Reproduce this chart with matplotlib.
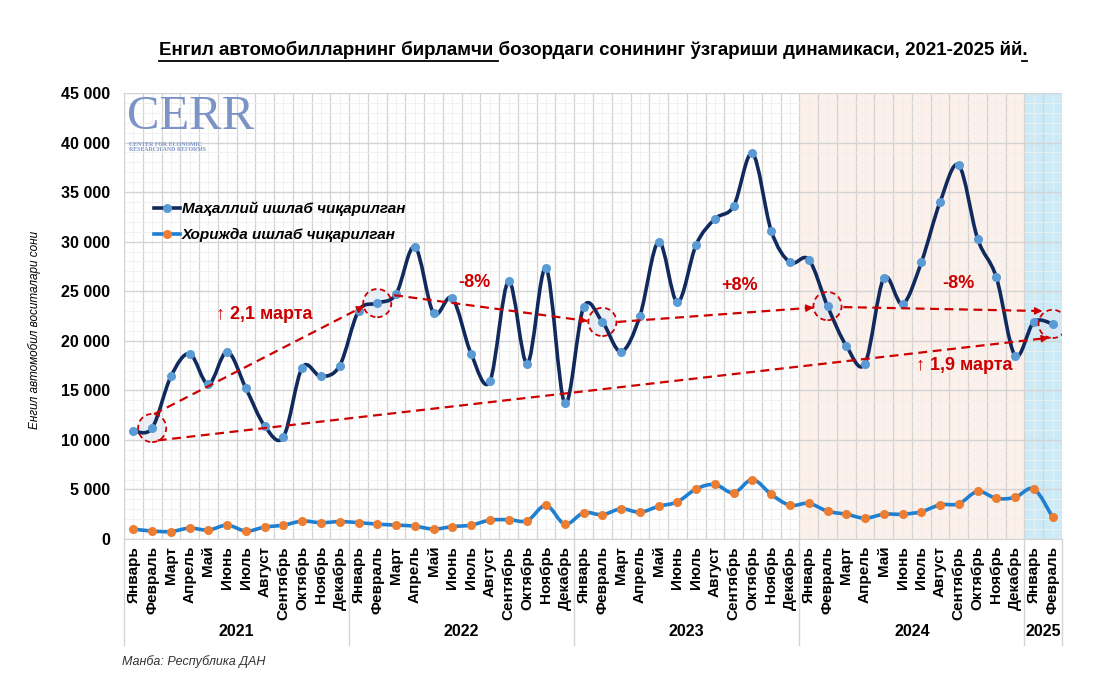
import matplotlib
matplotlib.use("Agg")
import matplotlib.pyplot as plt
from matplotlib.path import Path
from matplotlib.patches import PathPatch, Ellipse
from matplotlib.lines import Line2D
import numpy as np

plt.rcParams['font.family'] = ['Liberation Sans', 'DejaVu Sans']

# ---------------- data ----------------
months = ['Январь', 'Февраль', 'Март', 'Апрель', 'Май', 'Июнь', 'Июль',
          'Август', 'Сентябрь', 'Октябрь', 'Ноябрь', 'Декабрь']
month_labels = months * 4 + months[:2]
years = ['2021', '2022', '2023', '2024', '2025']
year_counts = [12, 12, 12, 12, 2]

local = [10900, 11200, 16400, 18700, 15600, 18900, 15200, 11400, 10300, 17300, 16400, 17500,
         23000, 23800, 24700, 29500, 22800, 24300, 18700, 15900, 26000, 17700, 27300, 13700,
         23400, 21900, 18900, 22500, 30000, 23900, 29700, 32300, 33600, 38900, 31100, 27900,
         28200, 23500, 19500, 17700, 26300, 23700, 27900, 34000, 37700, 30300, 26400, 18500,
         21900, 21700]
foreign = [1000, 800, 750, 1100, 900, 1400, 800, 1200, 1400, 1800, 1650, 1750,
           1650, 1500, 1400, 1300, 1000, 1250, 1400, 1900, 1950, 1850, 3400, 1500,
           2650, 2450, 3050, 2700, 3300, 3750, 5050, 5500, 4650, 6000, 4500, 3400,
           3600, 2800, 2500, 2100, 2500, 2500, 2750, 3450, 3550, 4800, 4100, 4200,
           5050, 2200]

series_names = ['Маҳаллий ишлаб чиқарилган', 'Хорижда ишлаб чиқарилган']

# annotations
circle_idx = [1, 13, 25, 37, 49]
arrows = [((1.1, 12600), (12.3, 23500)),
          ((1.3, 9950), (48.8, 20300)),
          ((13.9, 24600), (24.2, 22000)),
          ((25.8, 21900), (36.25, 23350)),
          ((37.85, 23400), (48.45, 23000))]
labels = [('↑ 2,1 марта', 7.0, 22700),
          ('-8%', 18.2, 25900),
          ('+8%', 32.3, 25600),
          ('-8%', 44.0, 25800),
          ('↑ 1,9 марта', 44.3, 17550)]

title = 'Енгил автомобилларнинг бирламчи бозордаги сонининг ўзгариши динамикаси, 2021-2025 йй.'
title_ul = 'Енгил автомобилларнинг бирламчи'
ylab = 'Енгил автомобил воситалари сони'
source = 'Манба: Республика ДАН'
logo_main = 'CERR'
logo_sub = 'CENTER FOR ECONOMIC\nRESEARCH AND REFORMS'

# ---------------- figure ----------------
W, H = 1100, 676
fig = plt.figure(figsize=(W / 100, H / 100), dpi=100)
ax = fig.add_axes([124 / W, 1 - 539 / H, (1062 - 124) / W, (539 - 93) / H])
n = len(local)
x = np.arange(n)
ax.set_xlim(-0.5, n - 0.5)
ax.set_ylim(0, 45000)

# shaded periods
ax.axvspan(35.5, 47.5, color='#fcf0ea', zorder=0.1, lw=0)
ax.axvspan(47.5, 49.5, color='#cdeaf7', zorder=0.1, lw=0)

# grid
ax.set_axisbelow(True)
ax.set_yticks(np.arange(0, 45001, 5000))
ax.set_yticks(np.arange(0, 45001, 1000), minor=True)
ax.set_xticks(x)
ax.set_xticks(np.arange(-0.5, n, 1.0), minor=True)
ax.grid(True, which='major', axis='y', color='#d4d4d4', lw=1.0)
ax.grid(True, which='minor', axis='y', color='#efefef', lw=0.6)
ax.grid(True, which='minor', axis='x', color='#d4d4d4', lw=0.9)
ax.grid(True, which='major', axis='x', color='#efefef', lw=0.6)
ax.tick_params(which='both', length=0)
for s in ['top', 'right']:
    ax.spines[s].set_visible(False)
ax.spines['left'].set_color('#d4d4d4')
ax.spines['bottom'].set_color('#d4d4d4')

ax.set_yticklabels([f'{int(v):,}'.replace(',', ' ') for v in np.arange(0, 45001, 5000)],
                   fontsize=11.5, fontweight='bold')
ax.tick_params(axis='y', pad=10)
ax.set_xticklabels(month_labels, rotation=90, fontsize=11, fontweight='bold', va='top', ha='center')
ax.tick_params(axis='x', pad=5)


def smooth_path(xs, ys):
    pts = np.column_stack([xs, ys]).astype(float)
    verts = [pts[0]]
    codes = [Path.MOVETO]
    m = len(pts)
    for i in range(m - 1):
        p0 = pts[i - 1] if i > 0 else pts[i]
        p1 = pts[i]
        p2 = pts[i + 1]
        p3 = pts[i + 2] if i + 2 < m else pts[i + 1]
        c1 = p1 + (p2 - p0) / 6.0
        c2 = p2 - (p3 - p1) / 6.0
        verts += [c1, c2, p2]
        codes += [Path.CURVE4] * 3
    return Path(verts, codes)


navy = '#112a5e'
lblue = '#5b9bd5'
mblue = '#1f7fd1'
orange = '#ed7d31'

ax.add_patch(PathPatch(smooth_path(x, local), fill=False, edgecolor=navy, lw=2.6, zorder=3,
                       capstyle='round', joinstyle='round'))
ax.plot(x, local, ls='none', marker='o', ms=5.5, color=lblue, zorder=4)
ax.add_patch(PathPatch(smooth_path(x, foreign), fill=False, edgecolor=mblue, lw=2.6, zorder=3,
                       capstyle='round', joinstyle='round'))
ax.plot(x, foreign, ls='none', marker='o', ms=5.5, color=orange, zorder=4)

# annotations
red = '#cc0000'
for i in circle_idx:
    ax.add_patch(Ellipse((i, local[i]), 1.5, 2850, facecolor='#dbe5f0', alpha=0.55,
                         edgecolor='none', zorder=2.5))
    ax.add_patch(Ellipse((i, local[i]), 1.5, 2850, facecolor='none', edgecolor=red,
                         lw=1.3, ls=(0, (3, 2)), zorder=5))
for (sx, sy), (ex, ey) in arrows:
    ax.plot([sx, ex], [sy, ey], color=red, lw=1.6, ls=(0, (4, 2.5)), zorder=5)
    bx = ex - (ex - sx) * 0.01
    by = ey - (ey - sy) * 0.01
    ax.annotate('', xy=(ex, ey), xytext=(bx, by),
                arrowprops=dict(arrowstyle='-|>', color=red, lw=1, mutation_scale=11,
                                shrinkA=0, shrinkB=0), zorder=6)
for txt, tx, ty in labels:
    ax.text(tx, ty, txt, color=red, fontsize=13, fontweight='bold', ha='center', va='center',
            zorder=6, family=['Liberation Sans', 'DejaVu Sans'])

# legend
h1 = Line2D([], [], color=navy, lw=2.6, marker='o', ms=5.5, mfc=lblue, mec=lblue)
h2 = Line2D([], [], color=mblue, lw=2.6, marker='o', ms=5.5, mfc=orange, mec=orange)
leg = ax.legend([h1, h2], series_names, loc='upper left', bbox_to_anchor=(16 / 938, 1 - 95 / 446),
                frameon=False, handlelength=1.7, handletextpad=0.15, labelspacing=0.75,
                prop=dict(style='italic', weight='bold', size=11))

# category axis: year labels and separators
bounds = np.concatenate([[-0.5], -0.5 + np.cumsum(year_counts)])
yfrac_bottom = -(645 - 539) / 446
for b in bounds:
    ax.add_line(Line2D([b, b], [0, yfrac_bottom], transform=ax.get_xaxis_transform(),
                       color='#d4d4d4', lw=1, clip_on=False))
for k, yr in enumerate(years):
    cx = (bounds[k] + bounds[k + 1]) / 2
    ax.text(cx, -(632 - 539) / 446, yr, transform=ax.get_xaxis_transform(), ha='center',
            va='center', fontsize=11.5, fontweight='bold')

# logo
logo_c = '#7c93c6'
serif = ['Liberation Serif', 'DejaVu Serif']
fig.text(127 / W, 1 - 95 / H, logo_main, fontsize=35, color=logo_c, ha='left', va='top',
         family=serif)
fig.text(129 / W, 1 - 141.5 / H, logo_sub, fontsize=4.2, color=logo_c, ha='left',
         va='top', family=serif, fontweight='bold', linespacing=1.05)

# y label, source
fig.text(35 / W, 1 - 330 / H, ylab, rotation=90, ha='center', va='center', fontsize=8.5,
         style='italic')
fig.text(122 / W, 1 - 662 / H, source, ha='left', va='center', fontsize=9, style='italic',
         color='#333333')

# title with partial underline
tfont = dict(fontsize=13.5, fontweight='bold',
             family=['Liberation Sans Narrow', 'Liberation Sans', 'DejaVu Sans'])
t = fig.text(593 / W, 1 - 50 / H, title, ha='center', va='center', **tfont)
r = fig.canvas.get_renderer()
bb = t.get_window_extent(r)


def width_of(s):
    tmp = fig.text(0, 0, s, **tfont)
    w = tmp.get_window_extent(r).width
    tmp.remove()
    return w


space_w = width_of('x x') - width_of('xx')
w_pre = width_of(title_ul) + space_w
w_nodot = width_of(title[:-1])
uy = (bb.y0 - 1.5) / H
fig.add_artist(Line2D([bb.x0 / W, (bb.x0 + w_pre) / W], [uy, uy], transform=fig.transFigure,
                      color='black', lw=1.3))
fig.add_artist(Line2D([(bb.x0 + w_nodot) / W, bb.x1 / W], [uy, uy], transform=fig.transFigure,
                      color='black', lw=1.3))

fig.savefig('out.png', dpi=100)
